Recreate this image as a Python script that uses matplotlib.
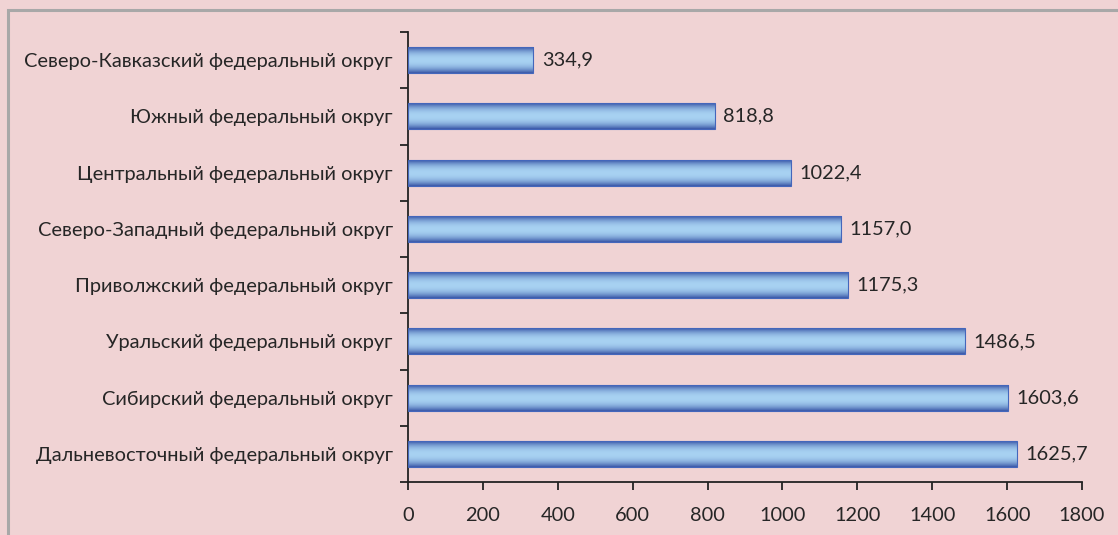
import numpy as np
import matplotlib
matplotlib.use("Agg")
import matplotlib.pyplot as plt
from matplotlib.patches import Rectangle

categories = [
    "Северо-Кавказский федеральный округ",
    "Южный федеральный округ",
    "Центральный федеральный округ",
    "Северо-Западный федеральный округ",
    "Приволжский федеральный округ",
    "Уральский федеральный округ",
    "Сибирский федеральный округ",
    "Дальневосточный федеральный округ",
]
values = [334.9, 818.8, 1022.4, 1157.0, 1175.3, 1486.5, 1603.6, 1625.7]
value_labels = ["334,9", "818,8", "1022,4", "1157,0", "1175,3", "1486,5", "1603,6", "1625,7"]
xticks = [0, 200, 400, 600, 800, 1000, 1200, 1400, 1600, 1800]

plt.rcParams['font.family'] = ['Lato', 'DejaVu Sans']
bg = '#f0d3d4'
txt = '#262626'
fs = 14.4

fig = plt.figure(figsize=(11.18, 5.35), dpi=100, facecolor=bg)
ax = fig.add_axes([408/1118, 1-482/535, (1082-408)/1118, (482-32)/535])
ax.set_facecolor(bg)

y = np.arange(len(categories))
bars = ax.barh(y, values, height=0.46, color='none', edgecolor='#4466bb', linewidth=0.8, zorder=3)

dark = np.array([0x3a, 0x58, 0xa8]) / 255
light = np.array([0xa8, 0xd2, 0xf2]) / 255
t = np.linspace(0, 1, 64)
d = np.abs(t - 0.5) * 2
w = np.clip(d, 0, 1) ** 2.2
grad = light[None, :] + (dark - light)[None, :] * w[:, None]
grad = grad[:, None, :]

for b in bars:
    x0, y0, bw, bh = b.get_x(), b.get_y(), b.get_width(), b.get_height()
    im = ax.imshow(grad, extent=[x0, x0 + bw, y0 + bh, y0], aspect='auto', zorder=2,
                   interpolation='bilinear')
    im.set_clip_path(b)

for b, lab in zip(bars, value_labels):
    ax.annotate(lab, (b.get_width(), b.get_y() + b.get_height() / 2),
                xytext=(6, 0), textcoords='offset points', va='center', ha='left',
                fontsize=fs, color=txt)

ax.set_xlim(0, 1800)
ax.set_ylim(len(categories) - 0.5, -0.5)
ax.set_xticks(xticks)
ax.set_xticklabels([str(v) for v in xticks], fontsize=fs, color=txt)
ax.set_yticks(y)
ax.set_yticklabels(categories, fontsize=fs, color=txt)
ax.set_yticks(np.arange(-0.5, len(categories), 1), minor=True)
ax.tick_params(axis='y', which='major', length=0, pad=11)
ax.tick_params(axis='y', which='minor', length=6, width=1.3, color='#222222', direction='out')
ax.tick_params(axis='x', which='major', length=6, width=1.3, color='#222222', direction='out', pad=12)

for s in ['top', 'right']:
    ax.spines[s].set_visible(False)
for s in ['left', 'bottom']:
    ax.spines[s].set_color('#222222')
    ax.spines[s].set_linewidth(1.3)

fig.patches.append(Rectangle((8/1118, -0.1), 1.2, 1.1 - 10/535, transform=fig.transFigure,
                             fill=False, edgecolor='#a8a8a8', linewidth=2.2))

fig.savefig('out.png', dpi=100, facecolor=bg)
